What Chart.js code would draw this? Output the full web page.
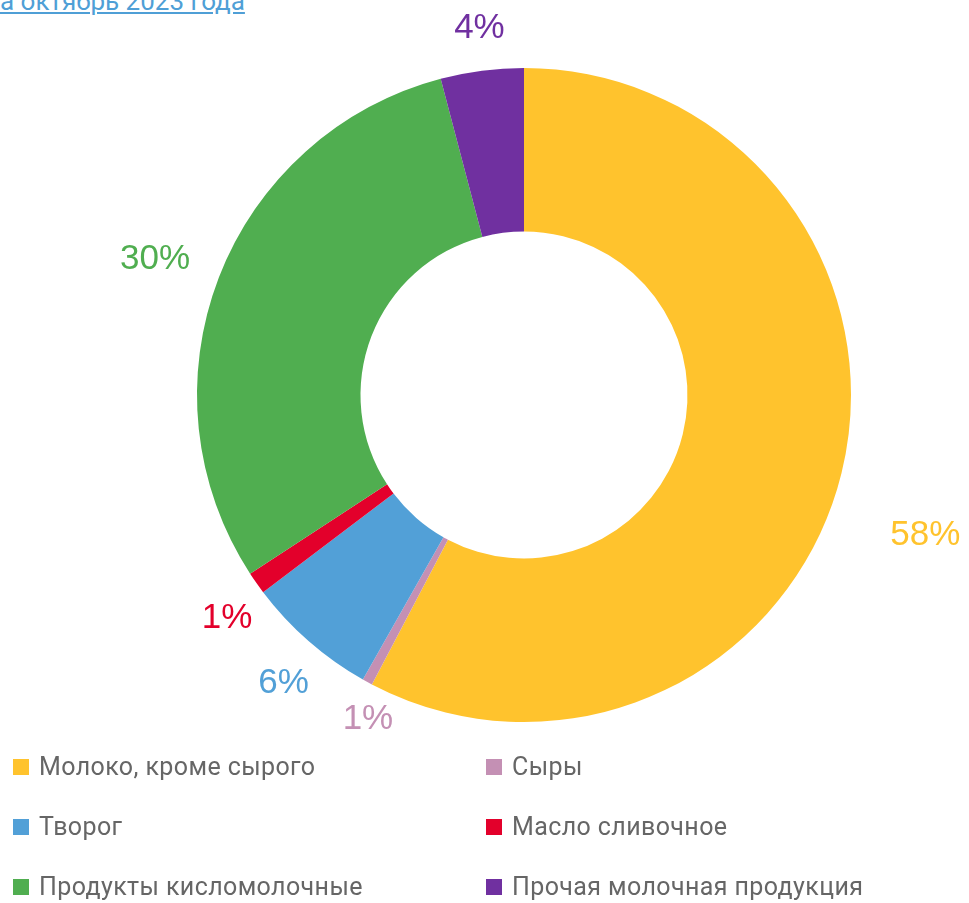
<!DOCTYPE html>
<html>
<head>
<meta charset="utf-8">
<script src="https://cdn.jsdelivr.net/npm/chart.js@4/dist/chart.umd.min.js"></script>
<style>
  html, body { margin: 0; padding: 0; background: #fff; }
  #wrap { position: relative; width: 969px; height: 903px; overflow: hidden; }
  #chart { position: absolute; left: 0; top: 0; }
  #link { position: absolute; left: 0; top: -12px; font-family: Roboto, "Open Sans", sans-serif; font-size: 26px; line-height: 26px; color: #4f9fd6; text-decoration: underline; white-space: nowrap; }
  .lg { position: absolute; font-family: Roboto, "Open Sans", sans-serif; font-size: 25px; letter-spacing: 0.4px; color: #666; white-space: nowrap; line-height: 30px; }
  .lg span.box { position: absolute; width: 16px; height: 16px; left: 0; top: 7px; }
  .lg span.txt { position: absolute; left: 26px; top: 0; }
</style>
</head>
<body>
<div id="wrap">
  <div id="link">а октябрь 2023 года</div>
  <canvas id="chart" width="969" height="903"></canvas>
  <div id="legend"></div>
</div>
<script>
const categories = ["Молоко, кроме сырого", "Сыры", "Творог", "Масло сливочное", "Продукты кисломолочные", "Прочая молочная продукция"];
const shares = [57.7, 0.5, 6.5, 1.1, 30.1, 4.1];
const labels = ["58%", "1%", "6%", "1%", "30%", "4%"];
const colors = ["#FFC32D", "#C490B4", "#52A0D7", "#E3002B", "#50AE50", "#7030A0"];

const labelPlugin = {
  id: 'outLabels',
  afterDatasetsDraw(chart, args, opts) {
    const ctx = chart.ctx;
    const meta = chart.getDatasetMeta(0);
    ctx.save();
    ctx.font = opts.size + 'px "Liberation Sans", Arial, sans-serif';
    ctx.textAlign = 'center';
    ctx.textBaseline = 'alphabetic';
    const capHalf = opts.size * 0.716 / 2;
    meta.data.forEach((arc, i) => {
      const mid = (arc.startAngle + arc.endAngle) / 2 + (opts.shift[i] || 0) * Math.PI / 180;
      const d = opts.dist[i];
      const x = arc.x + Math.cos(mid) * d;
      const y = arc.y + Math.sin(mid) * d;
      ctx.fillStyle = colors[i];
      ctx.fillText(labels[i], x, y + capHalf);
    });
    ctx.restore();
  }
};

new Chart(document.getElementById('chart'), {
  type: 'doughnut',
  data: {
    labels: categories,
    datasets: [{ data: shares, backgroundColor: colors, borderWidth: 0, hoverOffset: 0 }]
  },
  options: {
    responsive: false,
    animation: false,
    cutout: '50%',
    layout: { padding: { top: 68, bottom: 181, left: 197, right: 118 } },
    plugins: {
      legend: { display: false },
      tooltip: { enabled: false },
      outLabels: {
        size: 35,
        dist: [424, 357, 373, 370, 394, 372],
        shift: [5.0, -2.7, -1.1, -1.55, -0.5, 0.5]
      }
    }
  },
  plugins: [labelPlugin]
});

// HTML legend, two columns
const legend = document.getElementById('legend');
const colX = [13, 486];
const rowY = [752, 812, 872];
categories.forEach((c, i) => {
  const el = document.createElement('div');
  el.className = 'lg';
  el.style.left = colX[i % 2] + 'px';
  el.style.top = rowY[Math.floor(i / 2)] + 'px';
  el.innerHTML = '<span class="box" style="background:' + colors[i] + '"></span><span class="txt">' + c + '</span>';
  legend.appendChild(el);
});
</script>
</body>
</html>
